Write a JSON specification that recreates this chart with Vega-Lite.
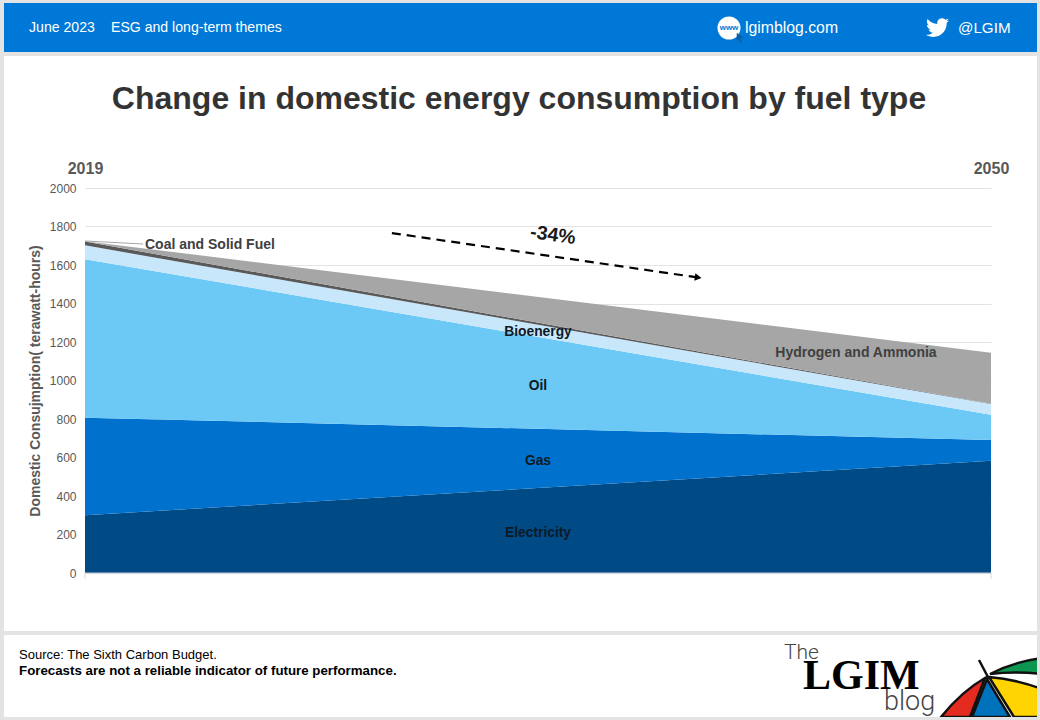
{
"$schema":"https://vega.github.io/schema/vega-lite/v6.json",
"width":906,"height":385,"autosize":{"type":"none"},
"padding":{"left":85,"top":188,"right":49,"bottom":147},
"background":"#ffffff",
"config":{"view":{"stroke":null},"font":"Liberation Sans"},
"datasets":{
"energy":[
{"fuel":"Electricity","rank":1,"year":2019,"value":300},{"fuel":"Electricity","rank":1,"year":2050,"value":583},
{"fuel":"Gas","rank":2,"year":2019,"value":507},{"fuel":"Gas","rank":2,"year":2050,"value":108},
{"fuel":"Oil","rank":3,"year":2019,"value":823},{"fuel":"Oil","rank":3,"year":2050,"value":131},
{"fuel":"Bioenergy","rank":4,"year":2019,"value":72},{"fuel":"Bioenergy","rank":4,"year":2050,"value":56},
{"fuel":"Coal and Solid Fuel","rank":5,"year":2019,"value":20},{"fuel":"Coal and Solid Fuel","rank":5,"year":2050,"value":1},
{"fuel":"Hydrogen and Ammonia","rank":6,"year":2019,"value":2},{"fuel":"Hydrogen and Ammonia","rank":6,"year":2050,"value":265}
],
"strips":[
{"year":2013.0916,"year2":2051.574,"value":3000,"value2":2961},
{"year":2013.0916,"year2":2051.574,"value":2706.5,"value2":2685.7},
{"year":2013.0916,"year2":2051.574,"value":-301.3,"value2":-322.1},
{"year":2013.0916,"year2":2051.574,"value":-748.05,"value2":-800},
{"year":2013.0916,"year2":2016.2285,"value":3000,"value2":-800},
{"year":2051.574,"year2":2052.5,"value":3000,"value2":-800}
]
},
"encoding":{
"x":{"field":"year","type":"quantitative","scale":{"domain":[2019,2050],"nice":false,"zero":false},
"axis":{"orient":"top","values":[2019,2050],"format":"d","title":null,"grid":false,"domain":false,"ticks":false,"labelFlush":false,"labelPadding":12,"labelFontSize":16,"labelFontWeight":"bold","labelColor":"#595959","labelFont":"Liberation Sans"}},
"y":{"field":"value","type":"quantitative","scale":{"domain":[0,2000],"nice":false,"zero":false},
"axis":{"values":[0,200,400,600,800,1000,1200,1400,1600,1800,2000],"format":"d","title":"Domestic Consujmption( terawatt-hours)","titleFontSize":14,"titleFontWeight":"bold","titleColor":"#595959","titlePadding":7,"titleFont":"Liberation Sans","grid":true,"gridColor":"#e3e3e3","domain":false,"ticks":false,"labelPadding":9,"labelFontSize":12,"labelColor":"#595959","labelFont":"Liberation Sans"}}
},
"layer":[
{"data":{"name":"energy"},"mark":{"type":"area","orient":"vertical"},
 "encoding":{"color":{"field":"fuel","type":"nominal","legend":null,"scale":{"domain":["Electricity","Gas","Oil","Bioenergy","Coal and Solid Fuel","Hydrogen and Ammonia"],"range":["#004A86","#0072CE","#6CC8F4","#C8E7FB","#595959","#A6A6A6"]}},"order":{"field":"rank","type":"ordinal"}}},
{"data":{"values":[{"year":2019,"value":0}]},"mark":{"type":"rule","color":"#c4ccd6"},"encoding":{"x":{"field":"year","type":"quantitative"},"x2":{"datum":2050},"y":{"field":"value","type":"quantitative"}}},
{"data":{"values":[{"year":2019,"value":0,"value2":-31},{"year":2050,"value":0,"value2":-31}]},"mark":{"type":"rule","color":"#dcdcdc"},"encoding":{"y2":{"field":"value2"}}},
{"data":{"values":[{"year":2019,"value":1724.7,"year2":2020.985,"value2":1709.1}]},"mark":{"type":"rule","color":"#a6a6a6","strokeWidth":1},"encoding":{"x2":{"field":"year2"},"y2":{"field":"value2"}}},
{"data":{"values":[{"year":2029.5,"value":1766},{"year":2039.98,"value":1535}]},"mark":{"type":"line","color":"#000000","strokeWidth":2.2,"strokeDash":[9,6]}},
{"data":{"values":[{"year":2039.98,"value":1535}]},"mark":{"type":"point","shape":"triangle-right","filled":true,"color":"#000000","size":60,"angle":8.4,"opacity":1}},
{"data":{"values":[{"label":"Coal and Solid Fuel","year":2021.053,"value":1704}]},"mark":{"type":"text","align":"left","baseline":"middle","fontWeight":"bold","fontSize":14,"color":"#404040"},"encoding":{"text":{"field":"label"}}},
{"data":{"values":[{"label":"Bioenergy","year":2034.5,"value":1254},{"label":"Oil","year":2034.5,"value":972},{"label":"Gas","year":2034.5,"value":584},{"label":"Electricity","year":2034.5,"value":208}]},"mark":{"type":"text","align":"center","baseline":"middle","fontWeight":"bold","fontSize":13.8,"color":"#0d1a26"},"encoding":{"text":{"field":"label"}}},
{"data":{"values":[{"label":"Hydrogen and Ammonia","year":2045.38,"value":1143}]},"mark":{"type":"text","align":"center","baseline":"middle","fontWeight":"bold","fontSize":14,"color":"#404040"},"encoding":{"text":{"field":"label"}}},
{"data":{"values":[{"label":"-34%","year":2035.01,"value":1755.8}]},"mark":{"type":"text","align":"center","baseline":"middle","fontWeight":"bold","fontSize":19.5,"angle":8,"color":"#1a1a1a"},"encoding":{"text":{"field":"label"}}},
{"data":{"values":[{"label":"Change in domestic energy consumption by fuel type","year":2033.85,"value":2462.5}]},"mark":{"type":"text","align":"center","baseline":"middle","fontWeight":"bold","fontSize":32,"color":"#333333"},"encoding":{"text":{"field":"label"}}},
{"data":{"name":"strips"},"mark":{"type":"rect","color":"#e3e3e3"},"encoding":{"x2":{"field":"year2"},"y2":{"field":"value2"}}},
{"data":{"values":[{"year":2016.2285,"year2":2051.574,"value":2961,"value2":2706.5}]},"mark":{"type":"rect","color":"#0078D7"},"encoding":{"x2":{"field":"year2"},"y2":{"field":"value2"}}},
{"data":{"values":[{"label":"June 2023","year":2017.084,"value":2831.2},{"label":"ESG and long-term themes","year":2019.89,"value":2831.2}]},"mark":{"type":"text","align":"left","baseline":"middle","fontSize":14.1,"color":"#ffffff"},"encoding":{"text":{"field":"label"}}},
{"data":{"values":[{"label":"lgimblog.com","year":2041.583,"value":2831.2}]},"mark":{"type":"text","align":"left","baseline":"middle","fontSize":15.8,"color":"#ffffff"},"encoding":{"text":{"field":"label"}}},
{"data":{"values":[{"label":"@LGIM","year":2048.871,"value":2831.2}]},"mark":{"type":"text","align":"left","baseline":"middle","fontSize":15.2,"color":"#ffffff"},"encoding":{"text":{"field":"label"}}},
{"data":{"values":[{"year":2041.035,"value":2831.2}]},"mark":{"type":"point","shape":"circle","filled":true,"color":"#ffffff","size":529,"opacity":1}},
{"data":{"values":[{"label":"www","year":2041.035,"value":2831.2}]},"mark":{"type":"text","align":"center","baseline":"middle","fontWeight":"bold","fontSize":8,"color":"#0078D7"},"encoding":{"text":{"field":"label"}}},
{"data":{"values":[{"year":2041.3,"value":2806}]},"mark":{"type":"point","shape":"M0 0L7 5L3.5 5.5L5.5 9L3.5 10L1.5 6.5L0 8Z","filled":true,"color":"#0b5fa5","size":4,"opacity":1}},
{"data":{"values":[{"year":2047.776,"value":2893.5}]},"mark":{"type":"point","shape":"M23.95 4.57a10 10 0 0 1-2.82.77 4.96 4.96 0 0 0 2.16-2.72c-.95.55-2 .96-3.12 1.18a4.92 4.92 0 0 0-8.38 4.48C7.69 8.09 4.07 6.13 1.64 3.16a4.82 4.82 0 0 0-.67 2.47c0 1.71.87 3.21 2.19 4.1a4.9 4.9 0 0 1-2.23-.61v.06a4.92 4.92 0 0 0 3.95 4.83 5 5 0 0 1-2.21.08 4.94 4.94 0 0 0 4.6 3.42A9.87 9.87 0 0 1 0 19.54a14 14 0 0 0 7.56 2.21c9.05 0 14-7.5 14-13.98 0-.21 0-.42-.02-.63A9.94 9.94 0 0 0 24 4.59z","filled":true,"color":"#ffffff","size":3.7,"opacity":1}},
{"data":{"values":[{"label":"Source: The Sixth Carbon Budget.","year":2016.742,"value":-426}]},"mark":{"type":"text","align":"left","baseline":"middle","fontSize":13,"color":"#000000"},"encoding":{"text":{"field":"label"}}},
{"data":{"values":[{"label":"Forecasts are not a reliable indicator of future performance.","year":2016.742,"value":-509.1}]},"mark":{"type":"text","align":"left","baseline":"middle","fontSize":13.3,"fontWeight":"bold","color":"#000000"},"encoding":{"text":{"field":"label"}}},
{"data":{"values":[{"label":"The","year":2042.917,"value":-415}]},"mark":{"type":"text","align":"left","baseline":"middle","fontSize":21,"font":"Roboto","fontWeight":300,"color":"#444444"},"encoding":{"text":{"field":"label"}}},
{"data":{"values":[{"label":"LGIM","year":2043.567,"value":-535}]},"mark":{"type":"text","align":"left","baseline":"middle","fontSize":42,"fontWeight":"bold","font":"Liberation Serif","color":"#000000"},"encoding":{"text":{"field":"label"}}},
{"data":{"values":[{"label":"blog","year":2046.34,"value":-670}]},"mark":{"type":"text","align":"left","baseline":"middle","fontSize":27,"font":"Roboto","fontWeight":300,"color":"#444444"},"encoding":{"text":{"field":"label"}}},
{"data":{"values":[{"part":"red","year":2049.863,"value":-540.26}]},"mark":{"type":"point","shape":"M-2 1Q-25 14-46 40L-17 40Z","filled":true,"color":"#E32B20","stroke":"#111111","strokeWidth":2.5,"size":4,"opacity":1}},
{"data":{"values":[{"part":"blue","year":2049.863,"value":-540.26}]},"mark":{"type":"point","shape":"M0 2L-15 40L23 40Z","filled":true,"color":"#0072BC","stroke":"#111111","strokeWidth":2.5,"size":4,"opacity":1}},
{"data":{"values":[{"part":"yellow","year":2049.863,"value":-540.26}]},"mark":{"type":"point","shape":"M2 0Q28 2 55 12L55 40L27 40Z","filled":true,"color":"#FFD400","stroke":"#111111","strokeWidth":2.5,"size":4,"opacity":1}},
{"data":{"values":[{"part":"green","year":2049.863,"value":-540.26}]},"mark":{"type":"point","shape":"M3 -3Q26 -15 55 -19L55 -3Q28 -6 3 -3Z","filled":true,"color":"#0D9650","stroke":"#111111","strokeWidth":2.5,"size":4,"opacity":1}},
{"data":{"values":[{"part":"spine","year":2049.863,"value":-540.26}]},"mark":{"type":"point","shape":"M-8 -17L2 2","filled":false,"stroke":"#111111","strokeWidth":2.5,"size":4,"opacity":1}},
{"data":{"name":"strips"},"mark":{"type":"rect","color":"#e3e3e3"},"encoding":{"x2":{"field":"year2"},"y2":{"field":"value2"}}}
]
}
